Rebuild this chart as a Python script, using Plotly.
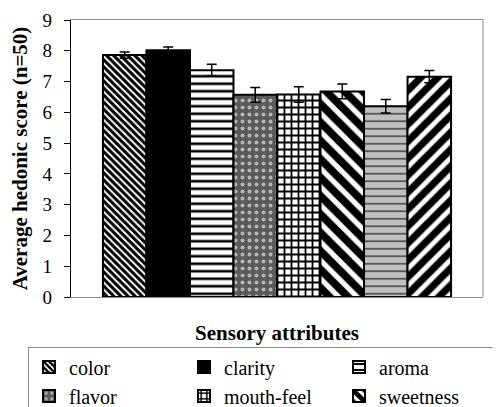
import plotly.graph_objects as go

attributes = ["color", "clarity", "aroma", "flavor", "mouth-feel", "sweetness",
              "aftertaste", "overall acceptability"]
scores = [7.86, 8.02, 7.37, 6.57, 6.58, 6.68, 6.20, 7.16]
errors = [0.10, 0.10, 0.19, 0.24, 0.25, 0.24, 0.22, 0.20]
y_ticks = [0, 1, 2, 3, 4, 5, 6, 7, 8, 9]

def pat(shape, fg, bg, size, solidity):
    return dict(shape=shape, fgcolor=fg, bgcolor=bg, size=size, solidity=solidity,
                fgopacity=1, fillmode="replace")

styles = [
    dict(color="white", pattern=pat("\\", "black", "white", 5, 0.6)),
    dict(color="black", pattern=None),
    dict(color="white", pattern=pat("-", "black", "white", 7.5, 0.35)),
    dict(color="#5a5a5a", pattern=pat(".", "#b5b5b5", "#5a5a5a", 7, 0.25)),
    dict(color="white", pattern=pat("+", "black", "white", 7, 0.45)),
    dict(color="white", pattern=pat("\\", "black", "white", 13, 0.6)),
    dict(color="#c0c0c0", pattern=pat("-", "#404040", "#c0c0c0", 7.5, 0.2)),
    dict(color="white", pattern=pat("/", "black", "white", 12, 0.6)),
]

serif = "Liberation Serif, Times New Roman, serif"
fig = go.Figure()
for name, val, err, st in zip(attributes, scores, errors, styles):
    marker = dict(color=st["color"], line=dict(color="black", width=2))
    if st["pattern"] is not None:
        marker["pattern"] = st["pattern"]
    fig.add_trace(go.Bar(
        x=["Sensory attributes"], y=[val], name=name, marker=marker,
        error_y=dict(type="data", array=[err], visible=True, color="black",
                     thickness=1.5, width=5),
    ))

# page body has an 8px margin, so figure coordinates are offset by 8px
W, H = 493, 399
L, T, R, B = 63, 12, 18, 110
plot_w, plot_h = W - L - R, H - T - B

fig.update_layout(
    width=W, height=H,
    margin=dict(l=L, r=R, t=T, b=B, autoexpand=False),
    paper_bgcolor="white", plot_bgcolor="white",
    barmode="group", bargap=0.155, bargroupgap=0,
    font=dict(family=serif, color="black", size=19),
    xaxis=dict(showticklabels=False, ticks="", showline=True, linecolor="#8c8c8c",
               linewidth=1, mirror=True, showgrid=False,
               title=dict(text="<b>Sensory attributes</b>", font=dict(family=serif, size=21), standoff=28)),
    yaxis=dict(range=[0, 9], tickvals=y_ticks, ticks="outside", ticklen=6, tickcolor="black",
               showline=True, linecolor="black", linewidth=1.2, showgrid=False, zeroline=False,
               tickfont=dict(family=serif, size=19), ticklabelstandoff=8,
               title=dict(text="<b>Average hedonic score (n=50)</b>", font=dict(family=serif, size=21), standoff=13)),
    legend=dict(orientation="h", x=(20 - L) / plot_w, xref="paper", y=-(338.5 - (H - B)) / plot_h, yref="paper",
                yanchor="top", xanchor="left",
                entrywidth=110, entrywidthmode="pixels", font=dict(family=serif, size=20, color="black"),
                bordercolor="#8c8c8c", borderwidth=1, bgcolor="white",
                traceorder="normal"),
    shapes=[dict(type="line", xref="paper", yref="paper", x0=1, x1=1, y0=0, y1=1,
                 line=dict(color="#8c8c8c", width=1))],
)
fig.write_html("out.html")
